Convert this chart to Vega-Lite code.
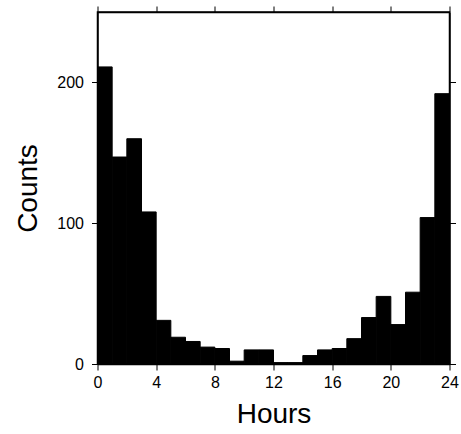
{
  "$schema": "https://vega.github.io/schema/vega-lite/v6.json",
  "autosize": "none",
  "width": 352,
  "height": 352,
  "padding": {"left": 97.5, "top": 12, "right": 11.5, "bottom": 70},
  "background": "white",
  "config": {
    "font": "Liberation Sans",
    "view": {"stroke": "black", "strokeWidth": 1.5},
    "axis": {
      "domainColor": "black",
      "domainWidth": 1.5,
      "tickColor": "black",
      "tickWidth": 1,
      "tickSize": 6,
      "grid": false,
      "labelFlush": false,
      "labelOverlap": false,
      "labelFont": "Liberation Sans",
      "labelFontSize": 16,
      "labelColor": "black",
      "titleFont": "Liberation Sans",
      "titleFontSize": 28,
      "titleFontWeight": "normal",
      "titleColor": "black"
    }
  },
  "data": {
    "values": [
      {"start": 0, "end": 1, "count": 211},
      {"start": 1, "end": 2, "count": 147},
      {"start": 2, "end": 3, "count": 160},
      {"start": 3, "end": 4, "count": 108},
      {"start": 4, "end": 5, "count": 31},
      {"start": 5, "end": 6, "count": 19},
      {"start": 6, "end": 7, "count": 16},
      {"start": 7, "end": 8, "count": 12},
      {"start": 8, "end": 9, "count": 11},
      {"start": 9, "end": 10, "count": 2},
      {"start": 10, "end": 11, "count": 10},
      {"start": 11, "end": 12, "count": 10},
      {"start": 12, "end": 13, "count": 1},
      {"start": 13, "end": 14, "count": 1},
      {"start": 14, "end": 15, "count": 6},
      {"start": 15, "end": 16, "count": 10},
      {"start": 16, "end": 17, "count": 11},
      {"start": 17, "end": 18, "count": 18},
      {"start": 18, "end": 19, "count": 33},
      {"start": 19, "end": 20, "count": 48},
      {"start": 20, "end": 21, "count": 28},
      {"start": 21, "end": 22, "count": 51},
      {"start": 22, "end": 23, "count": 104},
      {"start": 23, "end": 24, "count": 192}
    ]
  },
  "layer": [
    {
      "mark": {"type": "bar", "color": "black", "stroke": "black", "strokeWidth": 1, "orient": "vertical"},
      "encoding": {
        "x": {
          "field": "start", "type": "quantitative",
          "scale": {"domain": [0, 24], "nice": false, "zero": false, "padding": 0},
          "axis": {"orient": "bottom", "values": [0, 4, 8, 12, 16, 20, 24], "title": "Hours", "labelPadding": 4, "titlePadding": 10}
        },
        "x2": {"field": "end"},
        "y": {
          "field": "count", "type": "quantitative",
          "scale": {"domain": [0, 250], "nice": false},
          "axis": {"orient": "left", "values": [0, 100, 200], "title": "Counts", "labelPadding": 8, "titlePadding": 14}
        },
        "y2": {"datum": 0}
      }
    },
    {
      "mark": {"type": "bar", "opacity": 0, "orient": "vertical"},
      "encoding": {
        "x": {
          "field": "start", "type": "quantitative",
          "axis": {"orient": "top", "values": [0, 4, 8, 12, 16, 20, 24], "labels": false, "title": null}
        },
        "x2": {"field": "end"},
        "y": {
          "field": "count", "type": "quantitative",
          "axis": {"orient": "right", "values": [0, 100, 200], "labels": false, "title": null}
        },
        "y2": {"datum": 0}
      }
    }
  ],
  "resolve": {"axis": {"x": "independent", "y": "independent"}}
}
